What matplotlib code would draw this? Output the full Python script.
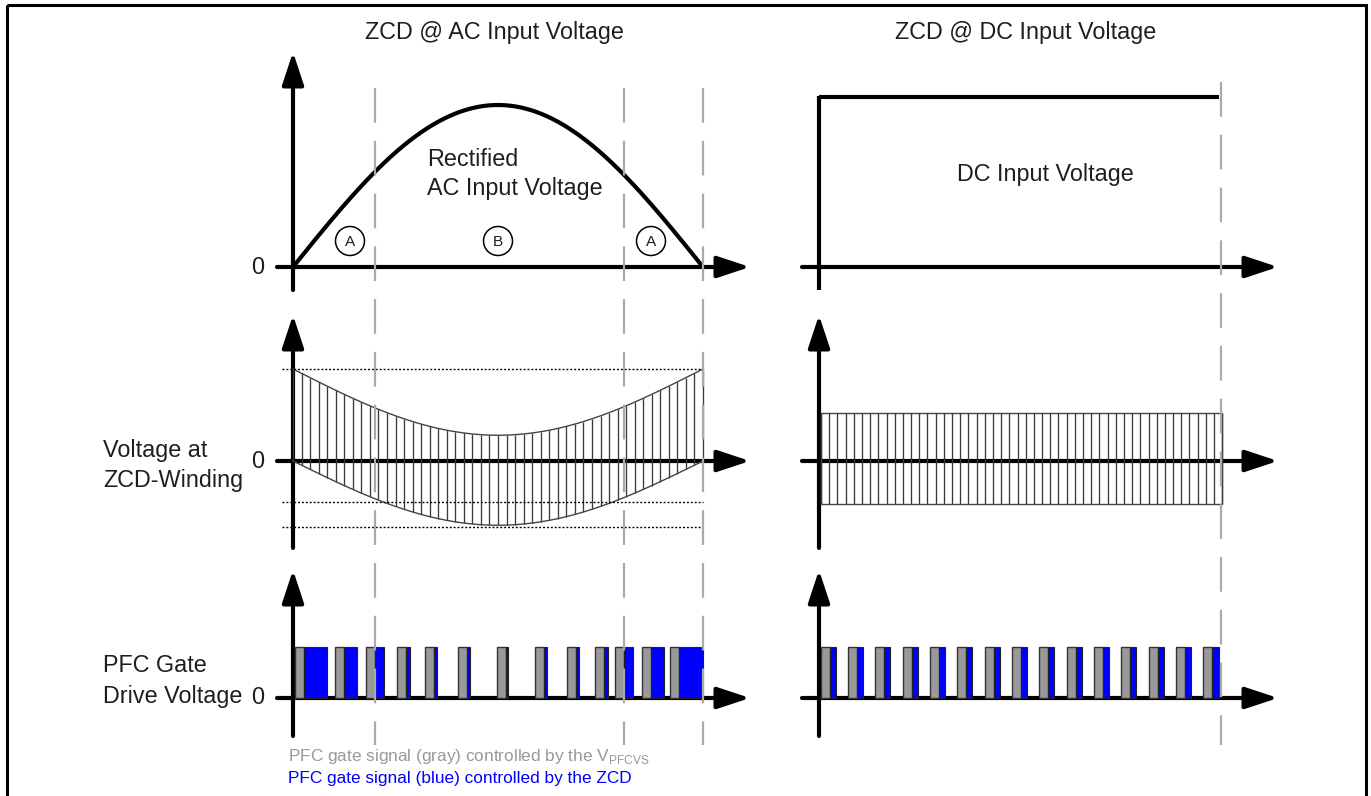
import matplotlib
matplotlib.use('Agg')
import matplotlib.pyplot as plt
import numpy as np
from matplotlib.patches import Rectangle, Circle

plt.rcParams['font.family'] = ['Liberation Sans', 'DejaVu Sans']
plt.rcParams['mathtext.fontset'] = 'custom'
plt.rcParams['mathtext.rm'] = 'Liberation Sans'
plt.rcParams['lines.scale_dashes'] = False

W, H = 1371, 796
TXT = '#1e1e1e'
FS = 16.8

# ---- data (time in ms, 10 ms half mains period, voltages normalised) ----
t_half = 10.0
v_peak = 1.0
v_dc = 1.05

# ZCD winding: off-time level k*(Vout - Vin), on-time level -k*Vin
zcd_vout = 1.0
zcd_vin = 0.72
zcd_dotted = [1.0, -0.45, -0.72]
n_hatch_ac = 49
n_hatch_dc = 50
dc_zcd_top = 0.52
dc_zcd_bot = -0.47

# gate pulses, AC case
ac_gray_start = [0.05, 1.02, 1.78, 2.54, 3.22, 4.02, 4.98, 5.90, 6.68, 7.37, 7.85, 8.51, 9.20]
ac_gray_width = 0.22
ac_blue_width = [0.56, 0.32, 0.22, 0.10, 0.07, 0.07, 0.05, 0.07, 0.07, 0.10, 0.22, 0.32, 0.58]

# gate pulses, DC case
dc_gray_start = [0.05, 0.71, 1.37, 2.05, 2.71, 3.37, 4.05, 4.71, 5.37, 6.05,
                 6.71, 7.37, 8.05, 8.71, 9.37]
dc_gray_width = 0.22
dc_blue_width = 0.15
dc_end = 9.76

fig = plt.figure(figsize=(W / 100, H / 100), dpi=100)

# background axes in pixel units for frame, arrows and labels
bg = fig.add_axes([0, 0, 1, 1], zorder=0)
bg.set_xlim(0, W)
bg.set_ylim(H, 0)
bg.axis('off')

over = fig.add_axes([0, 0, 1, 1], zorder=3)
over.set_xlim(0, W)
over.set_ylim(H, 0)
over.axis('off')
over.patch.set_alpha(0)


def panel(px0, px1, py0, py1, xlim, ylim):
    '''axes whose data range xlim/ylim sits on the given pixel box'''
    ax = fig.add_axes([px0 / W, 1 - py0 / H, (px1 - px0) / W, (py0 - py1) / H], zorder=1)
    ax.set_xlim(*xlim)
    ax.set_ylim(*ylim)
    ax.axis('off')
    ax.patch.set_alpha(0)
    return ax


def arrow(x0, y0, x1, y1, head=True):
    if head:
        bg.annotate('', xy=(x1, y1), xytext=(x0, y0),
                    arrowprops=dict(arrowstyle='-|>,head_length=1.0,head_width=0.33',
                                    mutation_scale=20, lw=3, color='black',
                                    shrinkA=0, shrinkB=0))
    else:
        bg.plot([x0, x1], [y0, y1], color='black', lw=3, solid_capstyle='butt')


# frame
bg.add_patch(Rectangle((7, 5), 1359, 820, fill=False, lw=2.2, edgecolor='black'))

# axes arrows
for ylev, ytip, ybot in [(267, 52, 290), (461, 315, 548), (698, 570, 736)]:
    arrow(293, ybot, 293, ytip)
    arrow(277, ylev, 750, ylev)
    arrow(802, ylev, 1278, ylev)
    if ylev == 267:
        arrow(819, ybot, 819, 96, head=False)
    else:
        arrow(819, ybot, 819, ytip)

# dashed guides
for x, y0 in [(375, 88), (624, 88), (703, 88), (1221, 82)]:
    over.plot([x, x], [y0, 745], color='#aaaaaa', lw=1.6, dashes=(25, 13))

# texts
bg.text(494, 33, 'ZCD @ AC Input Voltage', ha='center', va='center', fontsize=FS, color=TXT)
bg.text(1026, 33, 'ZCD @ DC Input Voltage', ha='center', va='center', fontsize=FS, color=TXT)
bg.text(427, 160, 'Rectified', ha='left', va='center', fontsize=FS, color=TXT)
bg.text(427, 188, 'AC Input Voltage', ha='left', va='center', fontsize=FS, color=TXT)
bg.text(1045, 175, 'DC Input Voltage', ha='center', va='center', fontsize=FS, color=TXT)
for y in [267, 461, 698]:
    bg.text(258, y, '0', ha='center', va='center', fontsize=FS, color=TXT)
bg.text(103, 450, 'Voltage at', ha='left', va='center', fontsize=FS, color=TXT)
bg.text(103, 481, 'ZCD-Winding', ha='left', va='center', fontsize=FS, color=TXT)
bg.text(103, 666, 'PFC Gate', ha='left', va='center', fontsize=FS, color=TXT)
bg.text(103, 696, 'Drive Voltage', ha='left', va='center', fontsize=FS, color=TXT)
bg.text(288, 756, r'PFC gate signal (gray) controlled by the V$_{\mathrm{PFCVS}}$',
        ha='left', va='center', fontsize=12.4, color='#999999')
bg.text(288, 778, 'PFC gate signal (blue) controlled by the ZCD',
        ha='left', va='center', fontsize=12.4, color='#0000ff')

# region markers
for x, lab in [(350, 'A'), (498, 'B'), (651, 'A')]:
    bg.add_patch(Circle((x, 241), 14.5, fill=False, lw=1.1, edgecolor='black'))
    bg.text(x, 242, lab, ha='center', va='center', fontsize=11, color=TXT)

# ---- top left: rectified sine ----
ax = panel(293, 703, 267, 105, (0, t_half), (0, v_peak))
t = np.linspace(0, t_half, 400)
vin = v_peak * np.sin(np.pi * t / t_half)
ax.plot(t, vin, color='black', lw=3, clip_on=False)

# ---- top right: DC ----
ax = panel(819, 1221, 267, 105, (0, 9.8), (0, v_peak))
ax.plot([0, dc_end], [v_dc, v_dc], color='black', lw=3, clip_on=False,
        solid_capstyle='butt')

# ---- middle left: ZCD winding voltage AC ----
ax = panel(293, 703, 461, 369, (0, t_half), (0, 1))
s = np.sin(np.pi * t / t_half)
upper = zcd_vout - zcd_vin * s
lower = -zcd_vin * s * 0.97
th = np.linspace(0, t_half, n_hatch_ac)
sh = np.sin(np.pi * th / t_half)
ax.vlines(th, -zcd_vin * sh * 0.97, zcd_vout - zcd_vin * sh, color='#3a3a3a', lw=0.95,
          clip_on=False)
ax.plot(t, upper, color='#444444', lw=1, clip_on=False)
ax.plot(t, lower, color='#444444', lw=1, clip_on=False)
for lev in zcd_dotted:
    ax.plot([-0.27, t_half], [lev, lev], color='black', lw=1, dashes=(1.4, 1.4),
            clip_on=False)

# ---- middle right: ZCD winding voltage DC ----
ax = panel(819, 1221, 461, 369, (0, 9.8), (0, 1))
th = np.linspace(0.05, 9.83, n_hatch_dc)
ax.vlines(th, dc_zcd_bot, dc_zcd_top, color='#3a3a3a', lw=0.95, clip_on=False)
ax.add_patch(Rectangle((0.05, dc_zcd_bot), 9.78, dc_zcd_top - dc_zcd_bot, fill=False,
                       lw=1, edgecolor='#444444', clip_on=False))

# ---- bottom left: gate pulses AC ----
ax = panel(293, 703, 698, 647, (0, t_half), (0, 1))
g0 = np.array(ac_gray_start)
ax.bar(g0, 1, width=ac_gray_width, align='edge', color='#999999',
       edgecolor='#333333', lw=1, clip_on=False)
ax.bar(g0 + ac_gray_width, 1, width=ac_blue_width, align='edge', color='#0000ff',
       edgecolor='#222222', lw=0.8, clip_on=False)

# ---- bottom right: gate pulses DC ----
ax = panel(819, 1221, 698, 647, (0, 9.8), (0, 1))
g0 = np.array(dc_gray_start)
ax.bar(g0, 1, width=dc_gray_width, align='edge', color='#999999',
       edgecolor='#333333', lw=1, clip_on=False)
ax.bar(g0 + dc_gray_width, 1, width=dc_blue_width, align='edge', color='#0000ff',
       edgecolor='#222222', lw=0.8, clip_on=False)

fig.savefig('out.png', dpi=100)
